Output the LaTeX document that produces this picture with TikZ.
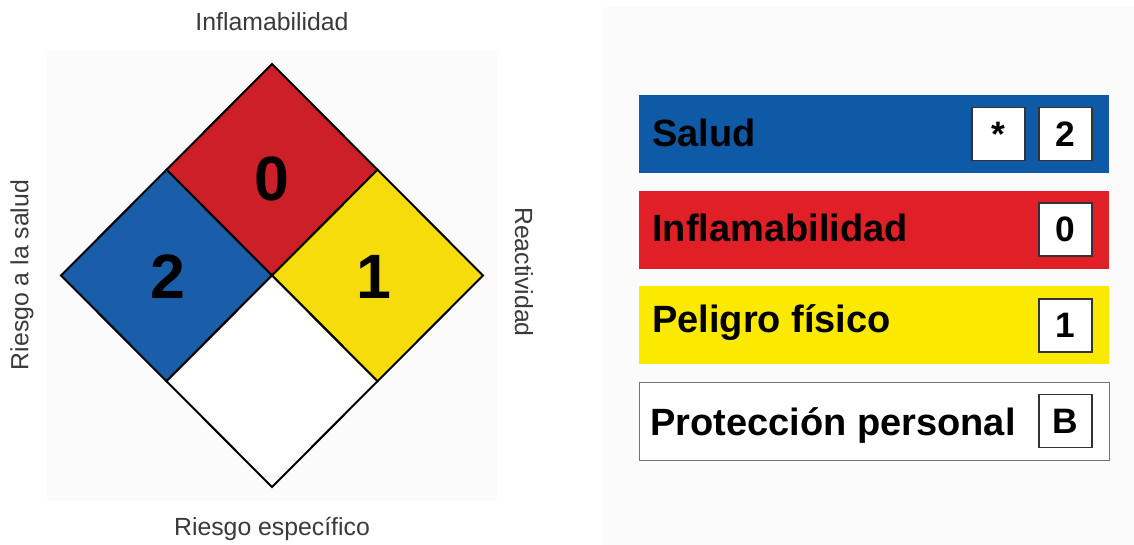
\documentclass[tikz,border=0pt]{standalone}
\usepackage{fontspec}
\setmainfont{Liberation Sans}
\definecolor{dblue}{HTML}{1A5EA9}
\definecolor{dred}{HTML}{CC1F27}
\definecolor{dyellow}{HTML}{F6DC0A}
\definecolor{bblue}{HTML}{0E5AA7}
\definecolor{bred}{HTML}{E11F26}
\definecolor{byellow}{HTML}{FCE900}
\definecolor{lbl}{HTML}{3A3A3A}
\definecolor{faint}{HTML}{FBFBFB}
\tikzset{
  quad/.style={draw=black, line width=1.5pt, line join=miter},
  digit/.style={font=\fontsize{47}{47}\selectfont\bfseries, inner sep=0pt},
  side/.style={font=\fontsize{18.6}{20}\selectfont, text=lbl, inner sep=0pt},
  bar/.style={minimum width=352.5pt, minimum height=58.5pt, inner sep=0pt, draw=none},
  bartext/.style={font=\fontsize{28.5}{30}\selectfont\bfseries, inner sep=0pt, anchor=base west},
  valbox/.style={draw=black!80, line width=0.9pt, fill=white, minimum width=39.75pt, minimum height=39.75pt, inner sep=0pt, font=\fontsize{26.5}{26.5}\selectfont\bfseries}
}
\begin{document}
\begin{tikzpicture}[x=0.75pt,y=-0.75pt]
\useasboundingbox (0,0) rectangle (1134,545);
\fill[white] (0,0) rectangle (1134,545);
% faint backgrounds
\fill[faint] (47,50) rectangle (497,501);
\fill[faint] (603,7) rectangle (1134,545);
% diamond
\coordinate (T) at (272,64);
\coordinate (L) at (61,275.5);
\coordinate (R) at (483,275.5);
\coordinate (B) at (272,487);
\coordinate (C) at (272,275.5);
\coordinate (TL) at (166.5,169.75);
\coordinate (TR) at (377.5,169.75);
\coordinate (BL) at (166.5,381.25);
\coordinate (BR) at (377.5,381.25);
\path[quad, fill=dred] (T) -- (TR) -- (C) -- (TL) -- cycle;
\path[quad, fill=dblue] (TL) -- (C) -- (BL) -- (L) -- cycle;
\path[quad, fill=dyellow] (TR) -- (R) -- (BR) -- (C) -- cycle;
\path[quad, fill=white] (C) -- (BR) -- (B) -- (BL) -- cycle;
\node[digit] (n0) at (272,179) {0};
\node[digit] (n2) at (168,277) {2};
\node[digit] (n1) at (374,277) {1};
% side labels
\node[side] (lt) at (272,22) {Inflamabilidad};
\node[side] (lb) at (272,529) {Riesgo específico};
\node[side, rotate=90] (ll) at (22,275) {Riesgo a la salud};
\node[side, rotate=-90] (lr) at (524,272) {Reactividad};
% right panel bars
\node[bar, fill=bblue, anchor=north west] (b1) at (638.5,95) {};
\node[bar, fill=bred, anchor=north west] (b2) at (638.5,190.5) {};
\node[bar, fill=byellow, anchor=north west] (b3) at (638.5,286) {};
\node[bar, fill=white, draw=black!55, line width=0.9pt, anchor=north west] (b4) at (638.5,381.5) {};
\node[bartext] (t1) at (652,146.5) {Salud};
\node[bartext] (t2) at (652,241.5) {Inflamabilidad};
\node[bartext] (t3) at (652,332.5) {Peligro físico};
\node[bartext] (t4) at (650,435) {Protección personal};
\node[valbox] (v1a) at (998.5,134) {*};
\node[valbox] (v1) at (1065.5,134) {2};
\node[valbox] (v2) at (1065.5,229.5) {0};
\node[valbox] (v3) at (1065.5,325.5) {1};
\node[valbox] (v4) at (1065.5,421) {B};
\end{tikzpicture}
\end{document}
